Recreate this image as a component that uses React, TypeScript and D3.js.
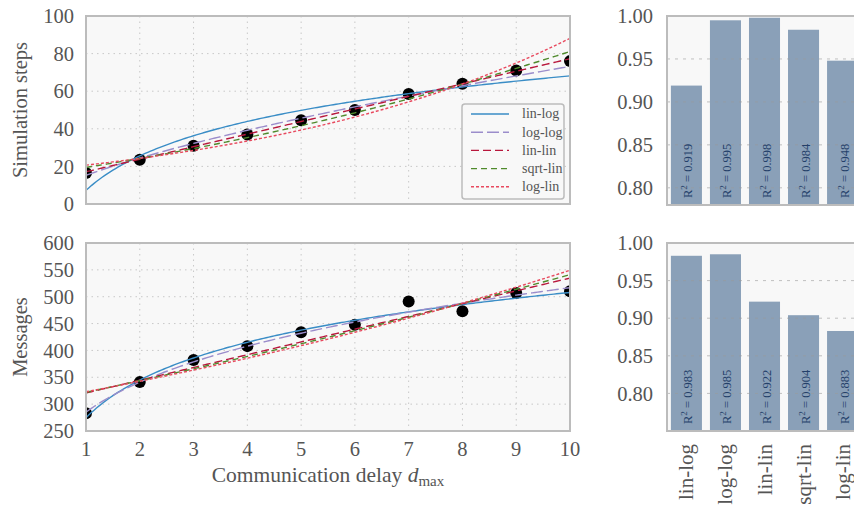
import React from "react";
import { scaleLinear, scaleBand, line, range } from "d3";

const delays = [1, 2, 3, 4, 5, 6, 7, 8, 9, 10];
const simSteps = [16.5, 23.5, 31, 37, 44.5, 50, 58.5, 64, 71, 76];
const messages = [283, 341, 382, 408, 434, 448, 491, 473, 507, 510];

const models = ["lin-log", "log-log", "lin-lin", "sqrt-lin", "log-lin"];
const modelColors = ["#3a8dc6", "#9b8dcb", "#b8173c", "#4f8a2c", "#e8495e"];
const modelDash = ["", "12,4", "8,4", "6,4", "3,2"];

const r2Steps = [0.919, 0.995, 0.998, 0.984, 0.948];
const r2Messages = [0.983, 0.985, 0.922, 0.904, 0.883];

const stepTicks = [0, 20, 40, 60, 80, 100];
const msgTicks = [250, 300, 350, 400, 450, 500, 550, 600];
const r2Ticks = [0.8, 0.85, 0.9, 0.95, 1.0];

const FONT = "'Liberation Serif', 'DejaVu Serif', serif";
const TXT = "#555";
const FRAME = "#bcbcbc";
const BG = "#f8f8f8";

// least squares y = a + b x
function linfit(xs: number[], ys: number[]) {
  const n = xs.length;
  const mx = xs.reduce((s, v) => s + v, 0) / n;
  const my = ys.reduce((s, v) => s + v, 0) / n;
  let sxy = 0, sxx = 0;
  xs.forEach((x, i) => {
    sxy += (x - mx) * (ys[i] - my);
    sxx += (x - mx) * (x - mx);
  });
  const b = sxy / sxx;
  return [my - b * mx, b];
}

function fitModel(name: string, xs: number[], ys: number[]) {
  const tx = name === "lin-log" || name === "log-log" ? (x: number) => Math.log(x) : (x: number) => x;
  const ty =
    name === "log-log" || name === "log-lin"
      ? (y: number) => Math.log(y)
      : name === "sqrt-lin"
      ? (y: number) => Math.sqrt(y)
      : (y: number) => y;
  const inv =
    name === "log-log" || name === "log-lin"
      ? (v: number) => Math.exp(v)
      : name === "sqrt-lin"
      ? (v: number) => v * v
      : (v: number) => v;
  const [a, b] = linfit(xs.map(tx), ys.map(ty));
  return (x: number) => inv(a + b * tx(x));
}

const L = 86, R = 570;
const x = scaleLinear().domain([1, 10]).range([L, R]);
const samples = range(1, 10.0001, 0.05);

function ScatterPanel({ ys, ticks, domain, top, bottom, label, showX, legend }: any) {
  const y = scaleLinear().domain(domain).range([bottom, top]);
  const ln = line<number[]>().x((d) => x(d[0])).y((d) => y(d[1]));
  const clipId = "clip" + label.replace(/\s/g, "");
  return (
    <g>
      <rect x={L} y={top} width={R - L} height={bottom - top} fill={BG} />
      <defs>
        <clipPath id={clipId}>
          <rect x={L} y={top} width={R - L} height={bottom - top} />
        </clipPath>
      </defs>
      {delays.slice(1, -1).map((d) => (
        <line key={"gx" + d} x1={x(d)} x2={x(d)} y1={top} y2={bottom} stroke="#c8c8c8" strokeDasharray="1.5,4" />
      ))}
      {ticks.slice(1, -1).map((t: number) => (
        <line key={"gy" + t} x1={L} x2={R} y1={y(t)} y2={y(t)} stroke="#c8c8c8" strokeDasharray="1.5,4" />
      ))}
      <g clipPath={`url(#${clipId})`}>
        {delays.map((d, i) => (
          <circle key={"p" + d} cx={x(d)} cy={y(ys[i])} r={6} fill="#000" />
        ))}
        {models.map((m, i) => {
          const f = fitModel(m, delays, ys);
          return (
            <path
              key={m}
              d={ln(samples.map((s) => [s, f(s)])) || ""}
              fill="none"
              stroke={modelColors[i]}
              strokeWidth={1.4}
              strokeDasharray={modelDash[i]}
            />
          );
        })}
      </g>
      <rect x={L} y={top} width={R - L} height={bottom - top} fill="none" stroke={FRAME} strokeWidth={2} />
      {ticks.map((t: number) => (
        <text key={"ty" + t} x={L - 12} y={y(t)} dy="0.35em" textAnchor="end" fontSize={20.5} fill={TXT} fontFamily={FONT}>
          {t}
        </text>
      ))}
      {showX &&
        delays.map((d) => (
          <text key={"tx" + d} x={x(d)} y={bottom + 25} textAnchor="middle" fontSize={20.5} fill={TXT} fontFamily={FONT}>
            {d}
          </text>
        ))}
      <text
        transform={`translate(27,${(top + bottom) / 2}) rotate(-90)`}
        textAnchor="middle"
        fontSize={20.5}
        fill={TXT}
        fontFamily={FONT}
      >
        {label}
      </text>
      {legend && (
        <g>
          <rect x={462} y={104} width={102} height={95} rx={3} fill={BG} stroke={FRAME} strokeWidth={1.5} />
          {models.map((m, i) => (
            <g key={"lg" + m} transform={`translate(0,${114 + i * 18.2})`}>
              <line x1={471} x2={509} y1={0} y2={0} stroke={modelColors[i]} strokeWidth={1.4} strokeDasharray={modelDash[i]} />
              <text x={522} y={0} dy="0.32em" fontSize={14} fill={TXT} fontFamily={FONT}>
                {m}
              </text>
            </g>
          ))}
        </g>
      )}
    </g>
  );
}

const BL = 667, BR = 862;
const bx = scaleBand().domain(models).range([BL, BR]).paddingInner(0.205).paddingOuter(0.1);

function BarPanel({ values, domain, top, bottom, showX }: any) {
  const y = scaleLinear().domain(domain).range([bottom, top]);
  return (
    <g>
      <rect x={BL} y={top} width={BR - BL} height={bottom - top} fill={BG} />
      {models.map((m, i) => (
        <rect key={m} x={bx(m)} y={y(values[i])} width={bx.bandwidth()} height={bottom - y(values[i])} fill="#8aa0b8" />
      ))}
      {r2Ticks.slice(0, -1).map((t) => (
        <line key={"g" + t} x1={BL} x2={BR} y1={y(t)} y2={y(t)} stroke="#999" strokeOpacity={0.6} strokeDasharray="3,5" />
      ))}
      {models.map((m, i) => (
        <text
          key={"r" + m}
          transform={`translate(${(bx(m) as number) + bx.bandwidth() / 2 + 6},${bottom - 7}) rotate(-90)`}
          fontSize={12.5}
          fill="#24406a"
          fontFamily={FONT}
        >
          R<tspan dy="-5" fontSize={9}>2</tspan>
          <tspan dy="5"> = {values[i].toFixed(3)}</tspan>
        </text>
      ))}
      <rect x={BL} y={top} width={BR - BL} height={bottom - top} fill="none" stroke={FRAME} strokeWidth={2} />
      {r2Ticks.map((t) => (
        <text key={"t" + t} x={BL - 14} y={y(t)} dy="0.35em" textAnchor="end" fontSize={20.5} fill={TXT} fontFamily={FONT}>
          {t.toFixed(2)}
        </text>
      ))}
      {showX &&
        models.map((m) => (
          <text
            key={"c" + m}
            transform={`translate(${(bx(m) as number) + bx.bandwidth() / 2 + 7},${bottom + 13}) rotate(-90)`}
            textAnchor="end"
            fontSize={21}
            fill={TXT}
            fontFamily={FONT}
          >
            {m}
          </text>
        ))}
    </g>
  );
}

export default function App() {
  return (
    <svg width={854} height={511} style={{ position: "absolute", left: 0, top: 0, background: "#fff" }}>
      <ScatterPanel ys={simSteps} ticks={stepTicks} domain={[0, 100]} top={16} bottom={204} label="Simulation steps" legend />
      <ScatterPanel ys={messages} ticks={msgTicks} domain={[250, 600]} top={243} bottom={431} label="Messages" showX />
      <text x={328} y={482} textAnchor="middle" fontSize={21.5} fill={TXT} fontFamily={FONT}>
        Communication delay <tspan fontStyle="italic">d</tspan>
        <tspan fontSize={15} dy="4">max</tspan>
      </text>
      <BarPanel values={r2Steps} domain={[0.78, 1.0]} top={16} bottom={205} />
      <BarPanel values={r2Messages} domain={[0.75, 1.0]} top={243} bottom={431} showX />
    </svg>
  );
}
